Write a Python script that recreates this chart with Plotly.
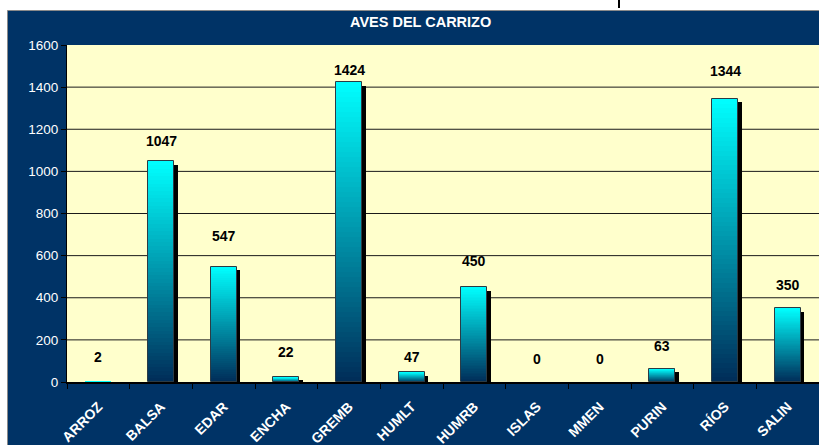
import plotly.graph_objects as go

# ---- data ----
categories = ["ARROZ", "BALSA", "EDAR", "ENCHA", "GREMB", "HUMLT", "HUMRB",
              "ISLAS", "MMEN", "PURIN", "RÍOS", "SALIN"]
values = [2, 1047, 547, 22, 1424, 47, 450, 0, 0, 63, 1344, 350]
y_ticks = [0, 200, 400, 600, 800, 1000, 1200, 1400, 1600]
title_text = "AVES DEL CARRIZO"

# ---- style ----
label_shift_px = [25, 20, 31, 25, 12, 15, 26, 23, 23, 23, 28, 23]
NAVY = "#003366"
PLOT_BG = "#FFFFCC"
FONT = "Arial, Liberation Sans, sans-serif"
W, H = 819, 445
ML, MR, MT, MB = 67, 0, 45, 63
plot_w = W - ML - MR
plot_h = H - MT - MB
BAR_W = 0.415
SHADOW_PX = 3.5
N_SEG = 60
top_rgb = (0, 255, 255)
bot_rgb = (0, 44, 88)

ymax = y_ticks[-1]
px_per_unit = plot_h / ymax
px_per_cat = plot_w / len(categories)

fig = go.Figure()

# shadow
shadow_vals = [max(v - SHADOW_PX / px_per_unit, 0) for v in values]
fig.add_trace(go.Bar(
    x=categories, y=shadow_vals, width=BAR_W,
    offset=-BAR_W / 2 + SHADOW_PX / px_per_cat,
    marker=dict(color="#000000", line=dict(width=0)),
    hoverinfo="skip", showlegend=False))

# gradient segments (bottom to top)
for k in range(N_SEG):
    t = (k + 0.5) / N_SEG
    c = tuple(int(round(b + (tp - b) * t)) for b, tp in zip(bot_rgb, top_rgb))
    seg = [v / N_SEG for v in values]
    ext = 1.0 if k == N_SEG - 1 else 1.8
    fig.add_trace(go.Bar(
        x=categories, y=[s * ext for s in seg],
        base=[v * k / N_SEG for v in values], width=BAR_W,
        marker=dict(color="rgb(%d,%d,%d)" % c, line=dict(width=0)),
        hoverinfo="skip", showlegend=False))

# outline (no stroke on bars too short to be seen)
outline_w = [1 if v * px_per_unit >= 2 else 0 for v in values]
fig.add_trace(go.Bar(
    x=categories, y=values, width=BAR_W,
    marker=dict(color="rgba(0,0,0,0)", line=dict(color="#2b3b45", width=outline_w)),
    hovertemplate="%{x}: %{y}<extra></extra>", showlegend=False))

# gridlines
for yv in y_ticks[1:-1]:
    fig.add_shape(type="line", xref="x", yref="y", x0=-0.5, x1=len(categories) - 0.5,
                  y0=yv, y1=yv, line=dict(color="#1a1a1a", width=1), layer="below")

# data labels
for cat, v, sh in zip(categories, values, label_shift_px):
    fig.add_annotation(x=cat, y=v, text="<b>%d</b>" % v, showarrow=False,
                       yanchor="middle", yshift=sh,
                       font=dict(family=FONT, size=14, color="#000000"))

# title
fig.add_annotation(xref="paper", yref="paper",
                   x=(420 - ML) / plot_w, y=(H - MB - 22) / plot_h,
                   text="<b>%s</b>" % title_text, showarrow=False,
                   xanchor="center", yanchor="middle",
                   font=dict(family=FONT, size=14.5, color="#FFFFFF"))

def px_x(p):
    return (p - ML) / plot_w

def px_y(p):
    return (H - MB - p) / plot_h

# white strips outside the navy frame
fig.add_shape(type="rect", xref="paper", yref="paper",
              x0=px_x(-5), x1=px_x(W + 5), y0=px_y(10.5), y1=px_y(-5),
              fillcolor="#FFFFFF", line=dict(width=0), layer="above")
fig.add_shape(type="rect", xref="paper", yref="paper",
              x0=px_x(-5), x1=px_x(7.5), y0=px_y(H + 5), y1=px_y(-5),
              fillcolor="#FFFFFF", line=dict(width=0), layer="above")
fig.add_shape(type="line", xref="paper", yref="paper",
              x0=px_x(7.5), x1=px_x(W + 5), y0=px_y(10.5), y1=px_y(10.5),
              line=dict(color="#8a8a8a", width=1), layer="above")
fig.add_shape(type="line", xref="paper", yref="paper",
              x0=px_x(7.5), x1=px_x(7.5), y0=px_y(10.5), y1=px_y(H + 5),
              line=dict(color="#8a8a8a", width=1), layer="above")
# fragment of clipped text at the top
fig.add_shape(type="line", xref="paper", yref="paper",
              x0=px_x(619), x1=px_x(619), y0=px_y(8), y1=px_y(-2),
              line=dict(color="#000000", width=2), layer="above")

fig.update_layout(
    width=W, height=H,
    margin=dict(l=ML, r=MR, t=MT, b=MB, pad=0, autoexpand=False),
    paper_bgcolor=NAVY, plot_bgcolor=PLOT_BG,
    barmode="overlay", bargap=0,
    showlegend=False,
    font=dict(family=FONT),
)
fig.update_xaxes(
    type="category", range=[-0.5, len(categories) - 0.5],
    tickangle=-45, tickson="boundaries", ticks="outside", ticklen=5,
    tickcolor="#000000", tickwidth=1, ticklabelstandoff=9,
    showline=True, linecolor="#000000", linewidth=2,
    showgrid=False, zeroline=False, automargin=False,
    tickfont=dict(family=FONT, size=14, color="#FFFFFF"),
    tickprefix="<b>", ticksuffix="</b>",
)
fig.update_yaxes(
    range=[0, ymax], tickvals=y_ticks, ticks="outside", ticklen=5,
    tickcolor="#000000", tickwidth=1,
    showline=True, linecolor="#000000", linewidth=1,
    showgrid=False, zeroline=False, automargin=False,
    tickfont=dict(family=FONT, size=13.5, color="#FFFFFF"),
)

fig.write_html("out.html", config={"displayModeBar": False},
               post_script="document.body.style.margin='0';document.body.style.padding='0';")
